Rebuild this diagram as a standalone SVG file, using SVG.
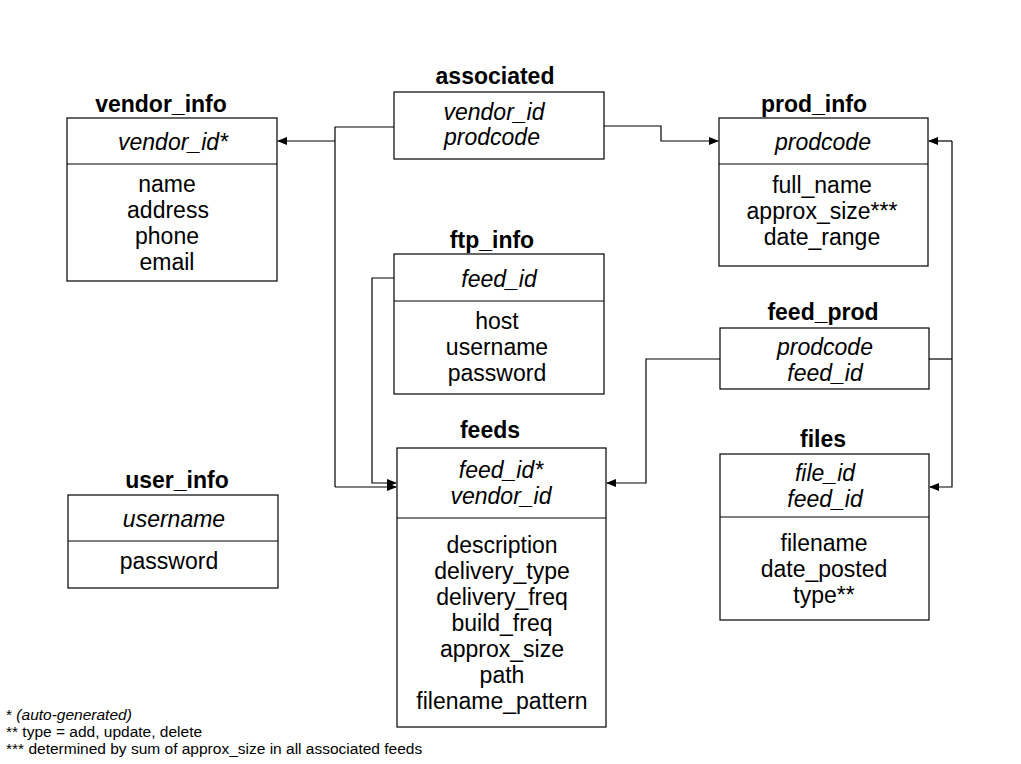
<svg xmlns="http://www.w3.org/2000/svg" width="1021" height="764" viewBox="0 0 1021 764">
<style>
text{font-family:"Liberation Sans",Arial,sans-serif;font-size:23px;fill:#000;text-anchor:middle}
.t{font-weight:bold;font-size:23px}
.k{font-style:italic}
.fn{font-size:15.5px;text-anchor:start}
rect{fill:#fff;stroke:#000;stroke-width:1.2}
line.d{stroke:#000;stroke-width:1.2}
.c{fill:none;stroke:#000;stroke-width:1.2;marker-end:url(#a)}
.p{fill:none;stroke:#000;stroke-width:1.2}
</style>
<defs>
<marker id="a" markerWidth="10" markerHeight="8" refX="9" refY="4" orient="auto" markerUnits="userSpaceOnUse">
<path d="M0,0 L10,4 L0,8 Z" fill="#000"/>
</marker>
</defs>
<rect x="0" y="0" width="1021" height="764" style="fill:#fff;stroke:none"/>
<g id="connectors">
<path class="p" d="M394,127 H335 V487"/>
<path class="c" d="M335,141 H278"/>
<path class="c" d="M335,487 H396"/>
<path class="c" d="M604,126 H661 V141 H718"/>
<path class="c" d="M394,278 H372 V483 H396"/>
<path class="c" d="M720,359 H646 V483 H607"/>
<path class="p" d="M929,359 H952"/>
<path class="c" d="M952,141 H929"/>
<path class="c" d="M952,141 V487 H930"/>
</g>
<g id="vendor_info">
<text class="t" x="161" y="112">vendor_info</text>
<rect x="67" y="118" width="210" height="163"/>
<line class="d" x1="67" y1="164" x2="277" y2="164"/>
<text class="k" x="173" y="150">vendor_id*</text>
<text x="167" y="192">name</text>
<text x="168" y="218">address</text>
<text x="167" y="244">phone</text>
<text x="167" y="270">email</text>
</g>
<g id="associated">
<text class="t" x="495" y="84">associated</text>
<rect x="394" y="92" width="210" height="67"/>
<text class="k" x="494" y="120">vendor_id</text>
<text class="k" x="492" y="145">prodcode</text>
</g>
<g id="prod_info">
<text class="t" x="814" y="112">prod_info</text>
<rect x="719" y="118" width="209" height="148"/>
<line class="d" x1="719" y1="164" x2="928" y2="164"/>
<text class="k" x="823" y="150">prodcode</text>
<text x="822" y="193">full_name</text>
<text x="822" y="219">approx_size***</text>
<text x="822" y="245">date_range</text>
</g>
<g id="ftp_info">
<text class="t" x="492" y="248">ftp_info</text>
<rect x="394" y="254" width="210" height="140"/>
<line class="d" x1="394" y1="301" x2="604" y2="301"/>
<text class="k" x="499" y="287">feed_id</text>
<text x="497" y="329">host</text>
<text x="497" y="355">username</text>
<text x="497" y="381">password</text>
</g>
<g id="feed_prod">
<text class="t" x="823" y="320">feed_prod</text>
<rect x="720" y="328" width="209" height="61"/>
<text class="k" x="825" y="355">prodcode</text>
<text class="k" x="825" y="381">feed_id</text>
</g>
<g id="feeds">
<text class="t" x="490" y="438">feeds</text>
<rect x="397" y="448" width="209" height="279"/>
<line class="d" x1="397" y1="518" x2="606" y2="518"/>
<text class="k" x="501" y="478">feed_id*</text>
<text class="k" x="501" y="504">vendor_id</text>
<text x="502" y="553">description</text>
<text x="502" y="579">delivery_type</text>
<text x="502" y="605">delivery_freq</text>
<text x="502" y="631">build_freq</text>
<text x="502" y="657">approx_size</text>
<text x="502" y="683">path</text>
<text x="502" y="709">filename_pattern</text>
</g>
<g id="files">
<text class="t" x="823" y="447">files</text>
<rect x="720" y="454" width="209" height="166"/>
<line class="d" x1="720" y1="517" x2="929" y2="517"/>
<text class="k" x="825" y="481">file_id</text>
<text class="k" x="825" y="507">feed_id</text>
<text x="824" y="551">filename</text>
<text x="824" y="577">date_posted</text>
<text x="824" y="603">type**</text>
</g>
<g id="user_info">
<text class="t" x="177" y="488">user_info</text>
<rect x="68" y="495" width="210" height="93"/>
<line class="d" x1="68" y1="541" x2="278" y2="541"/>
<text class="k" x="174" y="527">username</text>
<text x="169" y="569">password</text>
</g>
<g id="notes">
<text class="fn" x="6" y="720">* <tspan font-style="italic">(auto-generated)</tspan></text>
<text class="fn" x="6" y="737">** type = add, update, delete</text>
<text class="fn" x="6" y="754">*** determined by sum of approx_size in all associated feeds</text>
</g>
</svg>
